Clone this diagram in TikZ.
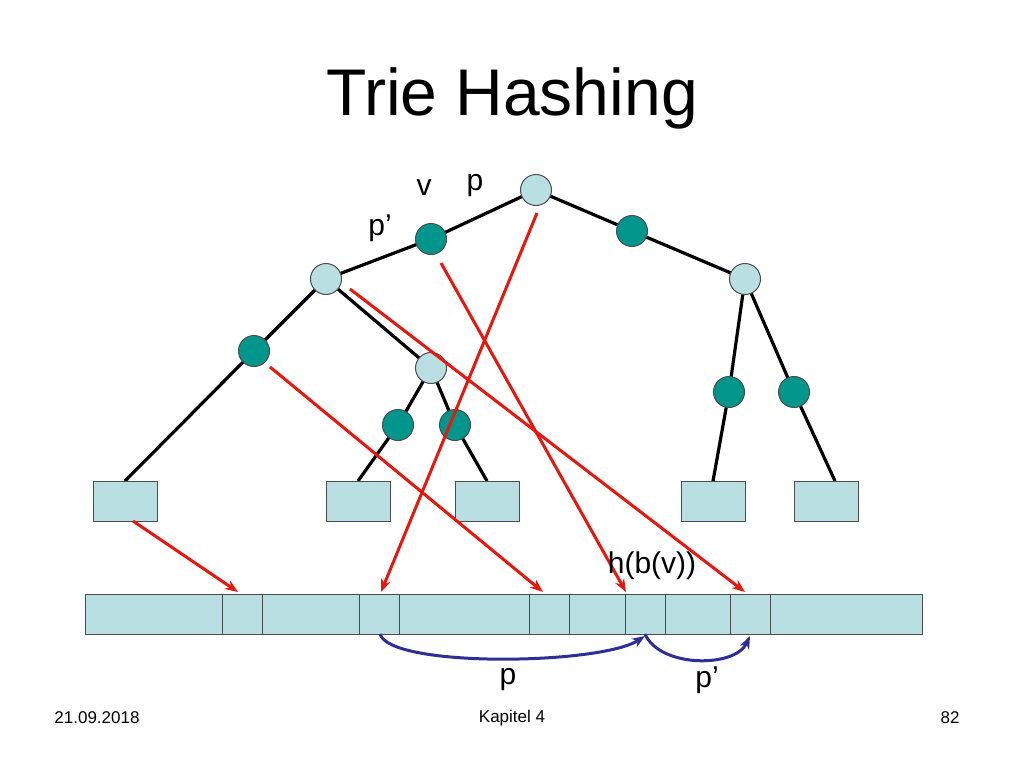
\documentclass[tikz,border=0pt]{standalone}
\usepackage{fontspec}
\usetikzlibrary{arrows.meta}
\setmainfont{Liberation Sans}
\definecolor{lt}{HTML}{B9DFE2}
\definecolor{tl}{HTML}{00968C}
\definecolor{rd}{HTML}{E8160C}
\definecolor{bl}{HTML}{2E2E96}
\begin{document}
\begin{tikzpicture}[x=1pt,y=-1pt,
 lc/.style={circle,draw=black!70,fill=lt,line width=1pt,minimum size=31pt,inner sep=0},
 tc/.style={circle,draw=black!70,fill=tl,line width=1pt,minimum size=31pt,inner sep=0},
 leaf/.style={draw=black!70,fill=lt,line width=1pt,minimum width=64pt,minimum height=40pt,inner sep=0},
 cell/.style={draw=black!70,fill=lt,line width=1pt,minimum height=40pt,inner sep=0,anchor=west},
 ed/.style={line width=3.2pt},
 ra/.style={draw=rd,line width=3pt,-{Stealth[length=13pt,width=10pt]}},
 ba/.style={draw=bl,line width=3pt,-{Stealth[length=13pt,width=10pt]}},
 lab/.style={font=\fontsize{30}{34}\selectfont}]
\useasboundingbox (0,0) rectangle (1024,768);
\node[font=\fontsize{66}{74}\selectfont] (title) at (512,98) {Trie Hashing};
% array
\foreach \a/\b [count=\i] in {85/222,222/262,262/359,359/399,399/529,529/569,569/625,625/665,665/730,730/770,770/922}
  \node[cell,minimum width={(\b-\a)*1pt}] (c\i) at (\a,614) {};
% tree edges
\coordinate (r) at (536,190);
\coordinate (a) at (431,239); \coordinate (b) at (632,231);
\coordinate (c) at (745,279); \coordinate (d) at (326,279);
\coordinate (e) at (254,351); \coordinate (f) at (431,368);
\coordinate (g) at (398,425); \coordinate (h) at (455,425);
\coordinate (i) at (729,392); \coordinate (j) at (794,392);
\coordinate (l1) at (125,481); \coordinate (l2) at (358,481);
\coordinate (l3) at (487,481); \coordinate (l4) at (713,481); \coordinate (l5) at (835,481);
\draw[ed] (r)--(a)--(d) (r)--(b)--(c) (d)--(e)--(l1) (d)--(f) (f)--(g)--(l2) (f)--(h)--(l3) (c)--(i)--(l4) (c)--(j)--(l5);
\node[lc] (nr) at (r) {}; \node[tc] (na) at (a) {}; \node[tc] (nb) at (b) {};
\node[lc] (nc) at (c) {}; \node[lc] (nd) at (d) {}; \node[tc] (ne) at (e) {};
\node[lc] (nf) at (f) {}; \node[tc] (ng) at (g) {}; \node[tc] (nh) at (h) {};
\node[tc] (ni) at (i) {}; \node[tc] (nj) at (j) {};
\node[leaf] (b1) at (125,501) {}; \node[leaf] (b2) at (358,501) {};
\node[leaf] (b3) at (487,501) {}; \node[leaf] (b4) at (713,501) {};
\node[leaf] (b5) at (826,501) {};
% red arrows
\coordinate (t1) at (238,592); \coordinate (t2) at (381,592); \coordinate (t3) at (626,592);
\coordinate (t4) at (543,592); \coordinate (t5) at (745,592);
\draw[ra] (133,521) -- (t1);
\draw[ra] (537,213) -- (t2);
\draw[ra] (441,263) -- (t3);
\draw[ra] (270,367) -- (t4);
\draw[ra] (350,289) -- (t5);
% blue
\draw[ba] (380,634) .. controls (390,668) and (600,665) .. (645,636);
\draw[ba] (645,634) .. controls (660,668) and (735,668) .. (750,636);
% labels
\node[lab] (lv) at (424,188) {v};
\node[lab] (lp) at (475,186) {p};
\node[lab] (lpp) at (380,228) {p’};
\node[lab] (lh) at (652,566) {h(b(v))};
\node[lab] (lp2) at (508,680) {p};
\node[lab] (lpp2) at (707,680) {p’};
\node[font=\fontsize{17}{20}\selectfont] (f1) at (97,718) {21.09.2018};
\node[font=\fontsize{17}{20}\selectfont] (f2) at (512,718) {Kapitel 4};
\node[font=\fontsize{17}{20}\selectfont] (f3) at (950,718) {82};
\end{tikzpicture}
\end{document}
